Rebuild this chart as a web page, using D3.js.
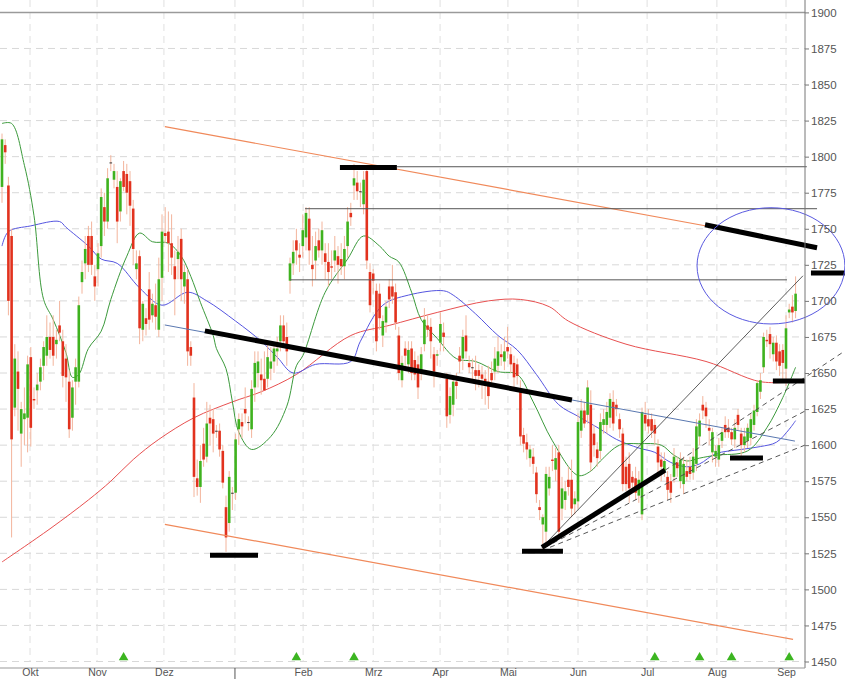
<!DOCTYPE html>
<html><head><meta charset="utf-8">
<script src="https://cdn.jsdelivr.net/npm/d3@7"></script>
<style>body{margin:0;background:#fff}svg{display:block}text{font-family:"Liberation Sans",Arial,sans-serif}</style>
</head><body><svg id="c" width="845" height="680"></svg>
<script>
// ---- data (day index 0..248) ----
const opens=[1779,1808,1780,1745,1626,1651,1608,1618,1619,1661,1632,1638,1644,1655,1662,1675,1675,1670,1683,1672,1660,1644,1619,1644,1644,1713,1726,1745,1745,1717,1722,1738,1765,1755,1796,1784,1779,1762,1790,1788,1783,1764,1722,1731,1680,1688,1708,1690,1697,1680,1716,1747,1748,1740,1724,1729,1743,1710,1715,1668,1633,1577,1571,1601,1592,1619,1618,1610,1610,1596,1557,1546,1567,1567,1611,1616,1625,1616,1611,1640,1650,1649,1646,1646,1653,1658,1665,1672,1683,1675,1714,1726,1742,1732,1738,1744,1757,1725,1728,1742,1735,1733,1727,1724,1728,1731,1729,1724,1738,1761,1780,1782,1776,1767,1790,1720,1719,1707,1705,1676,1685,1710,1710,1706,1676,1645,1667,1656,1667,1659,1656,1651,1670,1683,1682,1663,1662,1671,1678,1646,1621,1628,1644,1662,1660,1676,1657,1654,1652,1652,1649,1646,1644,1650,1651,1655,1663,1658,1668,1663,1657,1656,1637,1607,1602,1591,1592,1581,1557,1545,1540,1570,1590,1583,1595,1556,1562,1576,1576,1559,1561,1610,1624,1621,1628,1608,1597,1596,1614,1614,1619,1630,1628,1618,1608,1585,1587,1578,1577,1565,1552,1621,1618,1618,1614,1599,1590,1582,1578,1575,1578,1588,1575,1573,1582,1585,1581,1587,1606,1628,1626,1612,1595,1592,1590,1603,1614,1612,1609,1604,1621,1608,1600,1603,1605,1614,1623,1637,1654,1673,1677,1663,1671,1665,1666,1653,1692,1696,1693];
const highs=[1816,1812,1786,1750,1670,1665,1630,1640,1662,1668,1640,1650,1660,1672,1690,1685,1690,1680,1700,1680,1670,1652,1645,1660,1703,1728,1745,1752,1755,1725,1740,1778,1775,1792,1801,1795,1790,1785,1797,1795,1790,1770,1735,1735,1700,1695,1720,1705,1712,1730,1760,1765,1762,1760,1735,1745,1750,1725,1722,1672,1643,1590,1600,1612,1630,1628,1625,1614,1615,1600,1565,1582,1571,1608,1622,1622,1640,1620,1645,1665,1665,1660,1665,1670,1668,1670,1675,1690,1690,1685,1730,1742,1750,1740,1760,1765,1765,1745,1748,1750,1755,1740,1740,1735,1745,1738,1740,1745,1765,1768,1795,1790,1782,1790,1793,1726,1722,1712,1712,1690,1700,1715,1725,1712,1682,1662,1672,1672,1672,1665,1662,1668,1695,1690,1688,1668,1666,1692,1685,1650,1640,1648,1650,1668,1680,1690,1662,1660,1662,1656,1655,1652,1655,1658,1668,1675,1670,1675,1682,1668,1662,1660,1645,1612,1608,1600,1598,1585,1562,1552,1585,1585,1600,1598,1600,1578,1575,1585,1590,1568,1622,1632,1630,1645,1638,1614,1602,1622,1625,1630,1636,1638,1632,1622,1612,1592,1595,1582,1585,1582,1626,1630,1625,1622,1618,1604,1595,1595,1582,1580,1598,1592,1595,1592,1590,1592,1598,1618,1622,1634,1630,1618,1612,1600,1605,1612,1620,1618,1612,1618,1625,1612,1612,1615,1622,1628,1645,1650,1678,1680,1682,1675,1676,1670,1670,1690,1698,1704,1717];
const lows=[1768,1795,1690,1536,1620,1610,1585,1600,1595,1599,1625,1628,1638,1645,1655,1660,1655,1660,1672,1640,1630,1605,1610,1628,1640,1705,1715,1720,1718,1700,1710,1730,1745,1750,1790,1778,1740,1755,1776,1760,1752,1725,1715,1670,1672,1676,1680,1685,1680,1675,1700,1740,1720,1718,1690,1715,1700,1698,1655,1655,1564,1565,1560,1585,1588,1600,1595,1605,1592,1570,1526,1540,1555,1562,1600,1605,1615,1610,1605,1630,1640,1635,1640,1640,1645,1650,1655,1665,1670,1655,1705,1718,1725,1720,1730,1735,1725,1710,1715,1730,1725,1715,1710,1715,1720,1712,1718,1715,1730,1752,1770,1770,1765,1760,1722,1692,1705,1665,1680,1668,1678,1695,1698,1680,1645,1640,1655,1650,1645,1645,1632,1645,1665,1675,1660,1640,1655,1665,1665,1612,1615,1620,1632,1650,1652,1660,1650,1645,1638,1640,1632,1628,1625,1642,1645,1650,1655,1652,1660,1650,1640,1642,1600,1595,1590,1585,1580,1560,1548,1527,1530,1565,1582,1575,1535,1548,1555,1565,1550,1552,1556,1605,1612,1615,1582,1592,1585,1590,1608,1608,1612,1610,1620,1605,1568,1568,1560,1568,1562,1560,1548,1610,1608,1605,1600,1580,1575,1578,1562,1560,1574,1578,1570,1566,1575,1576,1576,1582,1600,1618,1612,1600,1588,1585,1585,1598,1605,1605,1600,1598,1610,1592,1595,1598,1600,1610,1620,1632,1650,1668,1660,1658,1652,1648,1645,1641,1688,1685,1688];
const closes=[1812,1803,1700,1604,1660,1639,1625,1622,1656,1612,1631,1642,1654,1668,1675,1666,1662,1673,1678,1648,1647,1611,1640,1654,1697,1720,1736,1725,1725,1710,1733,1772,1755,1785,1796,1790,1755,1783,1779,1775,1766,1736,1726,1681,1698,1684,1687,1698,1689,1715,1748,1745,1740,1730,1715,1734,1715,1720,1665,1662,1578,1571,1589,1590,1615,1615,1608,1610,1597,1574,1536,1578,1567,1604,1618,1613,1622,1616,1639,1657,1658,1645,1638,1661,1658,1667,1667,1683,1672,1665,1726,1734,1735,1730,1749,1761,1735,1722,1738,1735,1749,1727,1720,1723,1735,1725,1724,1736,1755,1758,1785,1776,1776,1784,1728,1697,1714,1672,1688,1686,1696,1701,1703,1685,1650,1657,1662,1666,1650,1649,1640,1663,1687,1680,1672,1651,1663,1684,1675,1620,1634,1644,1641,1658,1675,1665,1654,1654,1648,1648,1646,1641,1634,1645,1660,1665,1661,1665,1665,1656,1647,1648,1606,1601,1597,1597,1587,1566,1555,1550,1580,1578,1589,1591,1540,1570,1568,1571,1556,1563,1616,1624,1615,1640,1588,1600,1591,1616,1618,1623,1632,1615,1625,1611,1573,1573,1570,1574,1567,1576,1623,1615,1613,1610,1608,1588,1585,1589,1569,1567,1592,1584,1590,1587,1578,1580,1592,1613,1617,1624,1620,1610,1609,1596,1600,1609,1609,1609,1604,1612,1614,1600,1606,1612,1618,1624,1643,1645,1675,1672,1670,1671,1658,1655,1657,1681,1694,1692,1705];

// moving averages (day index, value)
const ma200Idx=[0,15,27,34,41,49,60,72,81,92,109,121,136,152,162,171,177,195,220,237,248];
const ma200Val=[1519,1542,1562,1575,1590,1604,1619,1630,1637,1649,1676,1683,1692,1700,1701,1696,1686,1670,1658,1644,1644];
const ma38Idx=[0,2,9,18,20,27,31,36,43,50,58,64,73,81,86,91,98,109,112,119,127,138,141,148,155,161,167,174,180,187,192,199,204,209,214,218,223,231,237,242,246,248];
const ma38Val=[1738,1748,1752,1755,1751,1738,1729,1726,1709,1697,1706,1700,1686,1672,1661,1650,1656,1658,1672,1697,1704,1707,1704,1691,1676,1666,1649,1628,1620,1611,1604,1598,1595,1588,1585,1587,1594,1597,1599,1602,1611,1617];
const ma20Idx=[0,3,7,10,13,16,20,22,24,27,31,34,39,43,47,52,56,59,62,66,67,70,72,74,78,84,89,92,94,101,108,113,118,121,124,128,131,136,142,148,155,161,166,172,180,184,187,193,199,206,210,214,218,223,233,239,244,248];
const ma20Val=[1823,1823,1794,1759,1701,1687,1664,1647,1649,1667,1679,1701,1731,1747,1741,1740,1731,1717,1699,1676,1667,1653,1630,1609,1597,1606,1627,1655,1662,1706,1729,1745,1738,1731,1727,1706,1687,1674,1660,1658,1651,1649,1630,1603,1579,1582,1589,1600,1601,1600,1593,1589,1591,1593,1596,1612,1633,1654];

// axis
const monthTicks=[8.75,29.7,50.6,72.8,94.1,116,136.9,158.1,180,201.6,223.4,245];
const monthLabels=["Okt","Nov","Dez","","Feb","Mrz","Apr","Mai","Jun","Jul","Aug","Sep"];
const yearTick=[72.8];
const yTicks=[1450,1475,1500,1525,1550,1575,1600,1625,1650,1675,1700,1725,1750,1775,1800,1825,1850,1875,1900];
const signalIdx=[38,92,110,204,218,228,246];

// drawn annotations in data space [i1,v1,i2,v2]
const orangeLines=[[50.9,1820.8,219.7,1752.1],[50.9,1545.1,247.2,1465.3]];
const trendThin=[[50.9,1683.3,247.8,1602.8]];
const thickLines=[[63.4,1679.2,178.1,1631.3],[105.6,1792.4,123.4,1792.4],[65,1523.6,80,1523.6],[162.5,1526.4,175.3,1526.4],[168.75,1529.2,207.2,1582.6],[227.5,1591,237.8,1591],[240.9,1644.4,250.9,1644.4],[252.8,1719.4,263.4,1719.4],[219.7,1752.8,254.7,1736.8]];
const hLines=[[123.4,1793,251.5,1793],[94.7,1763.9,254.7,1763.9],[90,1714.6,245.3,1714.6]];
const solidFan=[[168.75,1529.2,250.3,1717.4]];
const dashFan=[[207.2,1582.6,263.4,1665.3],[169.7,1529.2,250.9,1623.6],[171.25,1529.2,250.9,1600]];
const ellipse=[217.2,263.4,1764.6,1684];

// ---- drawing ----
const svg=d3.select("#c");
const x=d3.scaleLinear().domain([0,248]).range([2,795.6]);
const y=d3.scaleLinear().domain([1450,1900]).range([661.5,12.4]);
const R=805,B=668;

svg.append("defs").append("clipPath").attr("id","pc").append("rect").attr("x",0).attr("y",0).attr("width",R).attr("height",B);

// grid
const grid=svg.append("g");
grid.selectAll(".hg").data(yTicks.filter(v=>v<1900)).join("line")
 .attr("x1",0).attr("x2",R).attr("y1",d=>y(d)).attr("y2",d=>y(d))
 .attr("stroke","#d8d8d8").attr("stroke-dasharray","7,5");
grid.selectAll(".vg").data(monthTicks).join("line")
 .attr("x1",d=>x(d)).attr("x2",d=>x(d)).attr("y1",0).attr("y2",y(1450))
 .attr("stroke","#e0e0e0").attr("stroke-dasharray","7,5");
grid.append("line").attr("x1",0).attr("x2",R).attr("y1",y(1900)).attr("y2",y(1900)).attr("stroke","#9a9a9a").attr("stroke-width",1.5);

const plot=svg.append("g").attr("clip-path","url(#pc)");

// moving averages
const mk=(idx,val)=>idx.map((d,k)=>[d,val[k]]);
const line=d3.line().x(d=>x(d[0])).y(d=>y(d[1])).curve(d3.curveCatmullRom);
plot.append("path").attr("d",line(mk(ma200Idx,ma200Val))).attr("fill","none").attr("stroke","#e85050").attr("stroke-width",1);
plot.append("path").attr("d",line(mk(ma38Idx,ma38Val))).attr("fill","none").attr("stroke","#5555e0").attr("stroke-width",1);
plot.append("path").attr("d",line(mk(ma20Idx,ma20Val))).attr("fill","none").attr("stroke","#3c9a3c").attr("stroke-width",1);

// candles
const idx=d3.range(closes.length);
const cg=plot.append("g");
cg.selectAll(".w").data(idx).join("line")
 .attr("x1",i=>x(i)).attr("x2",i=>x(i)).attr("y1",i=>y(highs[i])).attr("y2",i=>y(lows[i]))
 .attr("stroke","#f3b49c").attr("stroke-width",1);
cg.selectAll(".b").data(idx).join("rect")
 .attr("x",i=>x(i)-1.3).attr("width",2.6)
 .attr("y",i=>y(Math.max(opens[i],closes[i])))
 .attr("height",i=>Math.max(1,Math.abs(y(opens[i])-y(closes[i]))))
 .attr("fill",i=>closes[i]>opens[i]?"#3fb21f":(closes[i]<opens[i]?"#e2321e":"#333"));

// annotations
const seg=(g,data,stroke,w,dash)=>g.selectAll(null).data(data).join("line")
 .attr("x1",d=>x(d[0])).attr("y1",d=>y(d[1])).attr("x2",d=>x(d[2])).attr("y2",d=>y(d[3]))
 .attr("stroke",stroke).attr("stroke-width",w).attr("stroke-dasharray",dash||null);
const ann=svg.append("g");
seg(ann,orangeLines,"#f0895a",1.2);
seg(ann,trendThin,"#5a78b0",1);
seg(ann,hLines,"#555",1);
seg(ann,solidFan,"#333",0.8);
seg(ann,dashFan,"#444",0.9,"5,4");
seg(ann,thickLines,"#000",5);
ann.append("ellipse")
 .attr("cx",(x(ellipse[0])+x(ellipse[1]))/2).attr("cy",(y(ellipse[2])+y(ellipse[3]))/2)
 .attr("rx",(x(ellipse[1])-x(ellipse[0]))/2).attr("ry",(y(ellipse[3])-y(ellipse[2]))/2)
 .attr("fill","none").attr("stroke","#5a5ae0").attr("stroke-width",1);

// signal triangles
svg.selectAll(".tri").data(signalIdx).join("path")
 .attr("d",d3.symbol(d3.symbolTriangle,40)())
 .attr("transform",d=>`translate(${x(d)},${y(1450)-4})`).attr("fill","#3cb521");

// axes
svg.append("line").attr("x1",R).attr("x2",R).attr("y1",0).attr("y2",B).attr("stroke","#777");
svg.append("line").attr("x1",0).attr("x2",R).attr("y1",B).attr("y2",B).attr("stroke","#999");
const ya=svg.append("g").attr("transform",`translate(${R},0)`)
 .call(d3.axisRight(y).tickValues(yTicks).tickSize(4).tickPadding(2).tickFormat(d3.format("d")));
ya.select(".domain").remove();
ya.selectAll("text").attr("fill","#555").style("font-size","11.5px").style("font-family","'Liberation Sans Narrow','Liberation Sans',Arial,sans-serif");
ya.selectAll("line").attr("stroke","#777");
const xa=svg.append("g").attr("transform",`translate(0,${B})`)
 .call(d3.axisBottom(x).tickValues(monthTicks).tickSize(0).tickPadding(0).tickFormat((d,k)=>monthLabels[k]));
xa.select(".domain").remove();
xa.selectAll("text").attr("fill","#555").attr("dy","0.75em").style("font-size","10.5px").style("font-family","'Liberation Sans Narrow','Liberation Sans',Arial,sans-serif");
svg.selectAll(".yt").data(yearTick).join("line").attr("x1",d=>x(d)).attr("x2",d=>x(d)).attr("y1",B).attr("y2",B+11).attr("stroke","#555");
</script></body></html>
